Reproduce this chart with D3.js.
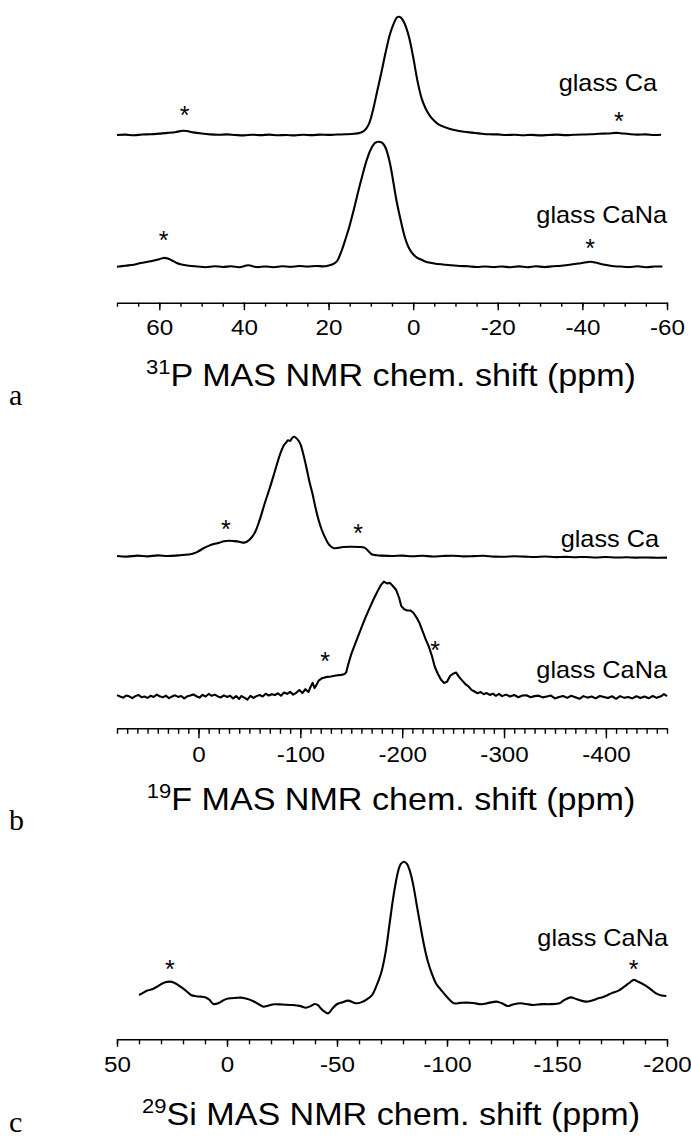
<!DOCTYPE html>
<html>
<head>
<meta charset="utf-8">
<script src="https://cdn.jsdelivr.net/npm/d3@7"></script>
<style>
  html, body { margin: 0; padding: 0; background: #fff; }
  svg { display: block; }
  text { font-family: "Liberation Sans", Arial, sans-serif; fill: #000; }
  .letter { font-family: "Liberation Serif", "DejaVu Serif", serif; }
</style>
</head>
<body>
<svg id="chart"></svg>
<script>
// ---- data (ppm, relative intensity) ----

// 31P, glass Ca
const pCaPpm = [70, 68, 66, 64, 62, 60, 58, 56, 54.5, 53.5, 52, 50, 48, 46, 44, 42, 40, 38, 36, 34, 32, 30, 28, 26, 24, 22, 20, 18, 16, 14, 12.5, 11.5, 10.5, 9.5, 8.5, 7.5, 6.5, 5.5, 4.5, 3.8, 3.3, 2.8, 2, 1, 0, -1, -2, -3, -4, -5, -6, -8, -10, -12, -14, -16, -18, -20, -22, -24, -26, -28, -30, -32, -34, -36, -38, -40, -42, -44, -46, -48, -49, -51, -53, -55, -57, -58.6];
const pCaInt = [0, 0.3, -0.2, 0.4, 0.6, 1.2, 1.8, 2.6, 3.6, 3.4, 2.2, 1.2, 0.5, 0.2, 0.5, 0, -0.3, 0.2, -0.1, 0.3, -0.2, 0, -0.3, 0.2, -0.1, 0.3, 0.1, 0.4, 0.6, 1.0, 2.0, 3.8, 9, 21, 37, 53, 70, 85, 95, 99.5, 100, 99, 94, 83, 66, 46, 31, 22, 16, 12, 9, 6, 4, 2.8, 2, 1.2, 0.6, 0.5, 0, 0.2, -0.2, 0.1, -0.3, 0, 0.3, -0.1, 0.2, 0.4, 0.6, 1.0, 1.3, 1.8, 1.5, 0.8, 0.3, 0.5, 0, 0.2];

// 31P, glass CaNa
const pCaNaPpm = [70, 68, 66, 64, 62, 60, 59, 58, 57, 56, 55, 53, 51, 49, 47, 45, 43, 41, 39, 37, 35, 33, 31, 29, 27, 25, 23, 21, 20, 19, 18, 17, 16, 15, 14, 13, 12, 11, 10, 9, 8.2, 7.3, 6.5, 5.5, 4.5, 4, 3, 2, 1, 0, -1, -2, -3, -5, -7, -9, -11, -13, -15, -17, -19, -21, -23, -25, -27, -29, -31, -33, -35, -37, -39, -41, -42, -43, -45, -47, -49, -51, -53, -55, -57, -58.9];
const pCaNaInt = [0, 0.8, 1.6, 3.2, 4.4, 6.0, 7.0, 6.6, 5.0, 3.2, 2.0, 0.8, 0.2, -0.4, 0.4, -0.2, 0.3, -0.4, 1.2, -0.3, 0.2, -0.4, 0.3, -0.1, 0.5, 0.1, 0.6, 0.3, 1.0, 2.0, 4.5, 12, 22, 33, 46, 60, 73, 85, 94, 99, 100, 99, 95, 83, 64, 54, 38, 24, 15, 10, 7, 5.5, 4, 2.6, 1.8, 1.2, 0.6, 0.3, -0.2, 0.2, -0.3, 0.1, -0.4, 0.3, -0.4, 0.4, -0.3, 0.3, 0.8, 1.5, 2.5, 3.6, 4.0, 3.4, 1.8, 0.5, 0.1, -0.3, 0.3, -0.4, 0.1, 0.2];

// 19F, glass Ca
const fCaPpm = [80, 70, 60, 50, 40, 30, 20, 10, 5, 0, -5, -10, -15, -20, -25, -30, -35, -40, -45, -50, -55, -60, -65, -70, -75, -80, -84, -86, -88, -90, -92, -94, -97, -100, -103, -106, -109, -112, -115, -118, -121, -124, -127, -130, -133, -137, -142, -150, -158, -163, -167, -170, -175, -180, -190, -200, -210, -220, -230, -240, -250, -260, -270, -280, -290, -300, -310, -320, -330, -340, -350, -360, -370, -380, -390, -400, -410, -420, -430, -440, -450, -460];
const fCaInt = [0, -0.5, 0.3, -0.3, 0.5, 0, 0.5, 1.2, 2, 4, 6.5, 8.5, 10, 11, 12.4, 12.8, 12.5, 12, 11.2, 13.5, 19, 30, 44, 57, 71, 85, 93, 95, 97, 96.5, 99, 100, 98, 94, 85, 74, 62, 52, 40, 30, 22, 16, 11, 8, 6.5, 6.8, 7.6, 7.8, 7.6, 7, 4, 1.5, 0.6, 0.3, 0, 0.3, -0.2, 0.2, -0.4, 0, 0.2, -0.3, -0.1, 0.2, -0.5, -0.6, -0.2, -0.5, -0.8, -0.4, -0.9, -0.7, -1.0, -0.8, -1.2, -0.9, -1.3, -1.1, -1.4, -1.2, -1.5, -1.4];

// 19F, glass CaNa (noisy, drawn with straight segments)
const fCaNaPpm = [80, 77, 74, 71, 68, 65, 62, 59, 56, 53, 50, 47, 44, 41, 38, 35, 32, 29, 26, 23, 20, 17, 14, 11, 8, 5, 2, -1, -4, -7, -10, -13, -16, -19, -22, -25, -28, -31, -34, -37, -40, -42, -45, -48, -51, -54, -57, -60, -63, -66, -69, -72, -75, -78, -81, -84, -87, -90, -93, -96, -99, -102, -105, -108, -110, -112, -114, -116, -118, -121, -125, -130, -135, -140, -143, -145, -147, -150, -153, -156, -160, -164, -168, -172, -176, -179, -182, -185, -188, -191, -194, -197, -199, -202, -205, -208, -211, -214, -217, -220, -223, -226, -229, -232, -235, -238, -241, -244, -247, -250, -253, -256, -259, -262, -265, -268, -271, -274, -277, -280, -283, -286, -289, -292, -295, -298, -302, -306, -310, -314, -318, -322, -326, -330, -334, -338, -342, -346, -350, -354, -358, -362, -366, -370, -374, -378, -382, -386, -390, -394, -398, -402, -406, -410, -414, -418, -422, -426, -430, -434, -438, -442, -446, -450, -454, -457, -460];
const fCaNaInt = [1.4, 0.2, -0.8, 1.0, 0.3, -1.2, 0.5, 1.5, -0.4, 0.2, -1.0, 0.8, -0.3, 1.8, 0.4, -0.6, 0.9, -1.3, 0.2, 1.2, -0.2, 0.6, -1.5, 0.3, 1.0, 2.0, 0.4, -0.8, 1.6, 0.2, 2.4, 0.8, 1.8, 0.2, -0.6, 1.2, -0.2, 0.9, -1.5, 0.5, -2.0, 0.6, -0.8, -2.6, 0.8, -1.0, 0.5, 1.5, 0.2, 2.6, 1.0, 2.2, 1.4, 3.0, 0.8, 3.6, 2.5, 4.2, 1.8, 3.4, 5.8, 3.2, 6.5, 4.0, 8.5, 12, 7.5, 10.5, 14, 16, 17, 17.5, 18.5, 19, 19.5, 21, 28, 37, 44, 51, 60, 69, 77, 85, 92, 97, 100, 98.5, 99, 96, 93, 86, 79, 76, 75, 75, 73, 69, 64, 57, 50, 44, 36, 26, 20, 15, 12, 13, 18, 20, 21, 17, 14, 11, 9, 6, 4.5, 3.0, 4.0, 2.2, 3.2, 1.5, 2.6, 0.8, 2.4, 0.5, 1.8, 0.2, 1.5, -0.5, 1.0, 1.2, -0.5, 0.5, 0.9, -0.6, 0.2, 1.0, -1.5, -0.2, 0.6, -1.0, 0.8, -0.4, -1.8, 0.5, -0.8, 0.2, -1.5, 0.6, -0.3, -1.2, 0.4, -1.8, 0.5, -1.0, -0.2, -1.5, 0.4, -1.2, 0.2, -1.4, 0.6, -1.0, 0.3, 2.2, 0.5, -0.5];

// 29Si, glass CaNa
const siPpm = [40, 38, 36.5, 34, 32, 29.8, 28, 26, 24, 22.2, 20, 18, 16.4, 14, 12, 10, 8, 6.2, 4, 2, 0, -2, -4, -6.4, -9, -12, -15, -16.5, -19, -21.5, -25, -30, -33, -35.9, -38, -40, -41.5, -42.6, -44, -46, -48, -50.1, -52, -55.2, -57.5, -59.4, -61.5, -63.6, -66, -67.8, -70, -72, -73.8, -75.4, -76.8, -77.9, -79, -80.5, -81.8, -83, -84.6, -86.4, -88, -89.7, -91.4, -93.1, -95, -97.3, -100, -103.2, -106, -109, -112, -115.8, -119, -122.5, -125, -127.6, -130, -133.5, -136, -139.4, -143, -147, -151.2, -153, -156.2, -159, -163, -166, -168.8, -171, -174.7, -178, -180.6, -183, -184.8, -187, -189.9, -192.5, -195, -197.5, -199.7];
const siInt = [5.9, 7.5, 8.9, 9.9, 11.5, 13.6, 14.8, 15.3, 14.5, 12.9, 10.5, 8, 5.9, 5, 4.7, 4.2, 2.5, -0.5, 0, 1.8, 3.2, 3.6, 3.8, 4, 3.2, 1.5, -1.2, -2.4, -1.5, -0.7, -0.8, -1.2, -1.8, -3.1, -2.0, -0.5, -1.5, -3.5, -5.5, -7.1, -3.5, -0.5, 0.5, 1.9, 0.5, 0, 1.0, 2.8, 6, 11.8, 21, 35.3, 55, 73, 86, 94, 98.5, 100, 98.5, 94, 84, 68, 54, 40, 29, 21, 14, 9.4, 4.5, 0, 0.3, 0.5, 0.2, -0.7, 0.3, 1.2, 0, -1.9, -0.8, 0, -0.5, -1.2, -0.6, -0.6, 0, 2, 4.2, 2.8, 1.2, 2.0, 3.5, 4.5, 7, 9, 11.8, 14.5, 16.5, 15.2, 12.9, 10, 7, 5.5, 5.2];

// axis ticks
const pMajor = [60, 40, 20, 0, -20, -40, -60];
const fMajor = [0, -100, -200, -300, -400];
const siMajor = [50, 0, -50, -100, -150, -200];

// spinning sidebands (ppm, height of the star above trace baseline)
const pCaStarPpm = [54, -48.6];
const pCaStarInt = [9.6, 4.2];
const pCaNaStarPpm = [59, -41.8];
const pCaNaStarInt = [13.9, 7.8];
const fCaStarPpm = [-27, -156.7];
const fCaStarInt = [15.1, 11.7];
const fCaNaStarPpm = [-124.4, -232.4];
const fCaNaStarInt = [23, 33];
const siStarPpm = [26, -184.8];
const siStarInt = [17.9, 17.9];

// ---- layout ----
const width = 691;
const height = 1140;
const left = 117, right = 667;
const stretch = 1.1;

const svg = d3.select("#chart")
    .attr("width", width)
    .attr("height", height)
    .attr("viewBox", [0, 0, width, height]);

const zip = (xs, ys) => xs.map((x, i) => [x, ys[i]]);

function drawTrace(x, y, ppm, vals, smooth = true) {
    const line = d3.line()
        .x(d => x(d[0]))
        .y(d => y(d[1]))
        .curve(smooth ? d3.curveCatmullRom.alpha(0.5) : d3.curveLinear);
    svg.append("path")
        .attr("fill", "none")
        .attr("stroke", "#000")
        .attr("stroke-width", 2.1)
        .attr("stroke-linejoin", "round")
        .attr("d", line(zip(ppm, vals)));
}

function drawStars(x, y, ppm, vals) {
    svg.append("g")
        .selectAll("text")
        .data(zip(ppm, vals))
        .join("text")
        .attr("transform", d => `translate(${x(d[0])},${y(d[1])})`)
        .attr("text-anchor", "middle")
        .attr("font-size", 25)
        .text("*");
}

function label(txt, xr, yb) {
    svg.append("text")
        .attr("transform", `translate(${xr},${yb}) scale(${stretch},1)`)
        .attr("text-anchor", "end")
        .attr("font-size", 23)
        .text(txt);
}

function drawAxis(x, yAxis, major, minorStep, majorLen, minorLen, pad) {
    const [d0, d1] = x.domain();
    const minor = d3.range(d0, d1 - 1e-6, -minorStep);
    svg.append("g")
        .attr("transform", `translate(0,${yAxis})`)
        .call(d3.axisBottom(x).tickValues(minor).tickSize(minorLen).tickSizeOuter(0).tickFormat(""))
        .call(g => g.select(".domain").attr("stroke-width", 1.6))
        .call(g => g.selectAll(".tick line").attr("stroke-width", 1.4));
    svg.append("g")
        .attr("transform", `translate(0,${yAxis})`)
        .call(d3.axisBottom(x).tickValues(major).tickSize(majorLen).tickSizeOuter(0).tickPadding(pad).tickFormat(d3.format("d")))
        .call(g => g.select(".domain").remove())
        .call(g => g.selectAll(".tick line").attr("stroke-width", 1.4))
        .call(g => g.selectAll(".tick text")
            .attr("font-size", 22)
            .attr("font-family", "Liberation Sans, Arial, sans-serif")
            .attr("transform", `scale(${stretch},1)`)
            .text(d => d < 0 ? "-" + Math.abs(d) : d));
}

function title(sup, rest, yb) {
    const t = svg.append("text")
        .attr("transform", `translate(391,${yb}) scale(${stretch},1)`)
        .attr("text-anchor", "middle")
        .attr("font-size", 31);
    t.append("tspan").attr("font-size", 20).attr("dy", -12).text(sup);
    t.append("tspan").attr("dy", 12).text(rest);
}

function letter(ch, yb) {
    svg.append("text")
        .attr("class", "letter")
        .attr("x", 9)
        .attr("y", yb)
        .attr("font-size", 30)
        .text(ch);
}

// ---- panel a: 31P ----
const xA = d3.scaleLinear().domain([70, -60]).range([left, right]);
const yACa = d3.scaleLinear().domain([0, 100]).range([135, 16.7]);
const yACaNa = d3.scaleLinear().domain([0, 100]).range([266.7, 141.7]);
drawTrace(xA, yACa, pCaPpm, pCaInt);
drawTrace(xA, yACaNa, pCaNaPpm, pCaNaInt);
drawStars(xA, yACa, pCaStarPpm, pCaStarInt);
drawStars(xA, yACaNa, pCaNaStarPpm, pCaNaStarInt);
label("glass Ca", 657, 90.7);
label("glass CaNa", 667, 223);
drawAxis(xA, 302.7, pMajor, 5, 7.5, 4, 9);
title("31", "P MAS NMR chem. shift (ppm)", 386);
letter("a", 405);

// ---- panel b: 19F ----
const xB = d3.scaleLinear().domain([80, -460]).range([left, right]);
const yBCa = d3.scaleLinear().domain([0, 100]).range([556, 436.7]);
const yBCaNa = d3.scaleLinear().domain([0, 100]).range([696.7, 581.7]);
drawTrace(xB, yBCa, fCaPpm, fCaInt);
drawTrace(xB, yBCaNa, fCaNaPpm, fCaNaInt, false);
drawStars(xB, yBCa, fCaStarPpm, fCaStarInt);
drawStars(xB, yBCaNa, fCaNaStarPpm, fCaNaStarInt);
label("glass Ca", 659, 546.7);
label("glass CaNa", 667, 678);
drawAxis(xB, 728.3, fMajor, 10, 10, 5.5, 8);
title("19", "F MAS NMR chem. shift (ppm)", 810);
letter("b", 830);

// ---- panel c: 29Si ----
const xC = d3.scaleLinear().domain([50, -200]).range([left, right]);
const yC = d3.scaleLinear().domain([0, 100]).range([1003.3, 861.7]);
drawTrace(xC, yC, siPpm, siInt);
drawStars(xC, yC, siStarPpm, siStarInt);
label("glass CaNa", 668, 946);
drawAxis(xC, 1039.3, siMajor, 10, 7.5, 5, 9.5);
title("29", "Si MAS NMR chem. shift (ppm)", 1125);
letter("c", 1132);
</script>
</body>
</html>
